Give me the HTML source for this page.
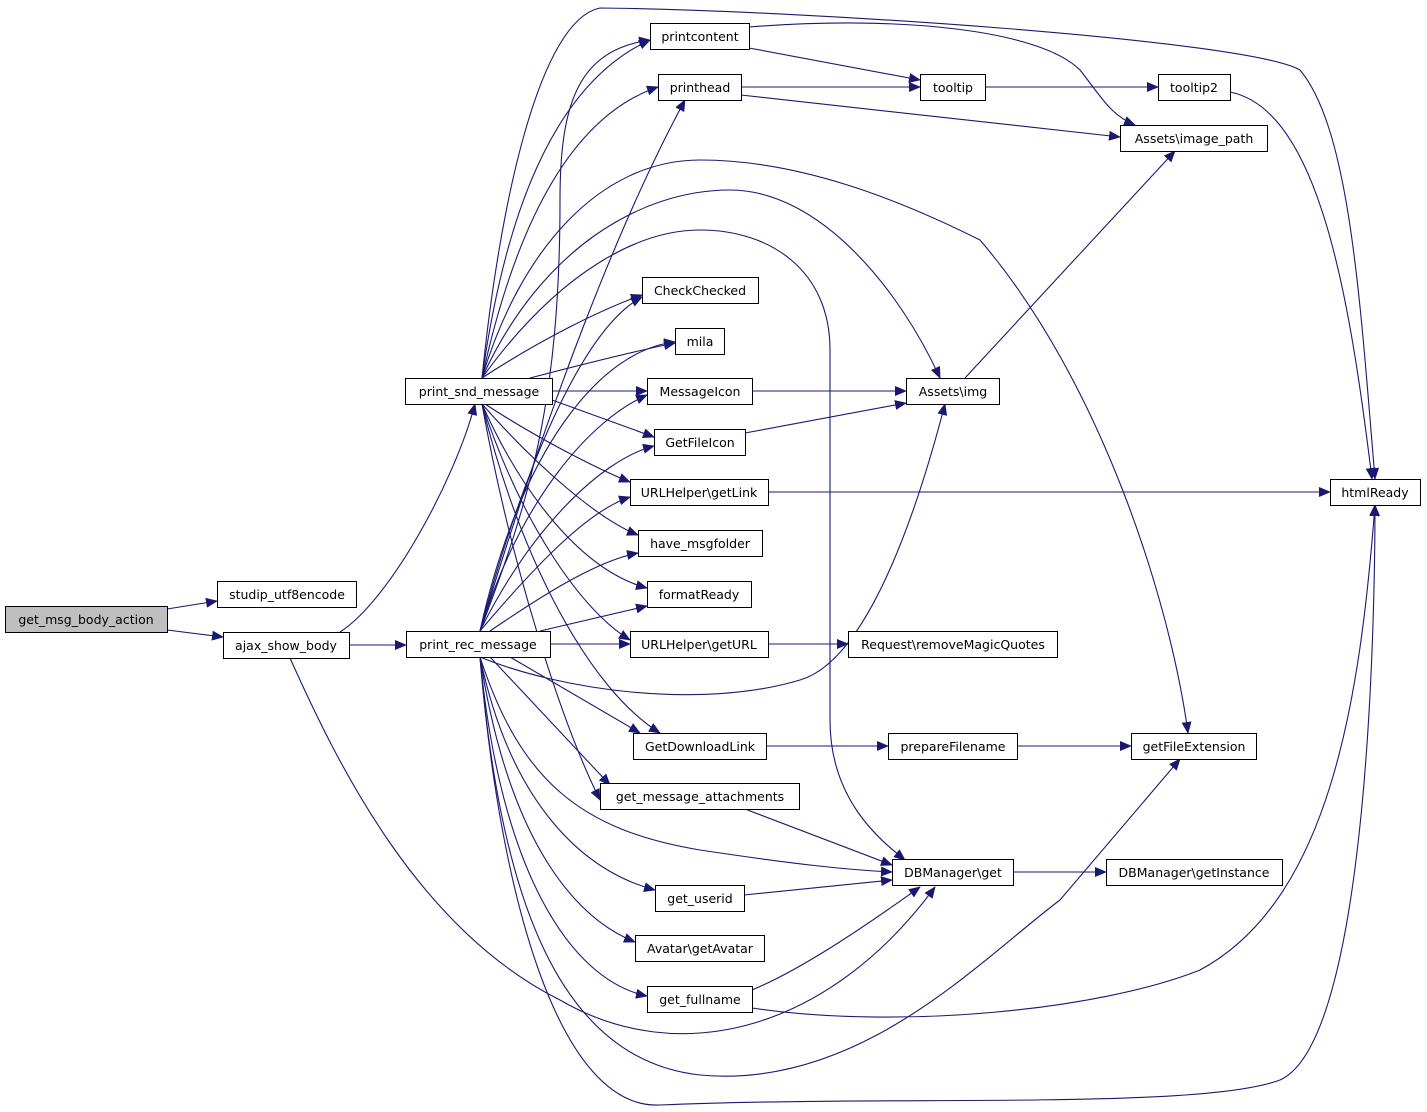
<!DOCTYPE html>
<html><head><meta charset="utf-8"><style>
html,body{margin:0;padding:0;background:#fff;width:1427px;height:1112px;overflow:hidden}
svg text{font-family:"DejaVu Sans","Liberation Sans",sans-serif;font-size:12.5px;fill:#000}
</style></head><body>
<svg width="1427" height="1112" viewBox="0 0 1427 1112" xmlns="http://www.w3.org/2000/svg">
<defs><marker id="a" markerWidth="12" markerHeight="10" refX="11" refY="5" orient="auto" markerUnits="userSpaceOnUse"><path d="M0,0 L12,5 L0,10 z" fill="#191970"/></marker></defs>
<g fill="none" stroke="#191970" stroke-width="1.1" marker-end="url(#a)">
<path d="M167,609 L217,601"/>
<path d="M167,630 L223,637"/>
<path d="M340,632 C390,600 455,480 475,404"/>
<path d="M349,645 L406,645"/>
<path d="M290,658 C340,770 420,930 560,1000 C680,1070 830,1030 935,887"/>
<path d="M482,378 C500,250 540,90 650,40"/>
<path d="M482,378 C510,250 560,120 658,87"/>
<path d="M482,378 C500,200 540,20 600,8 C800,10 1250,40 1300,70 C1350,130 1360,300 1375,479"/>
<path d="M482,378 C520,250 600,160 700,160 C800,160 900,200 980,240 C1100,380 1170,600 1188,733"/>
<path d="M482,378 C540,250 640,190 730,190 C820,190 900,290 940,378"/>
<path d="M482,378 C560,270 640,230 700,230 C770,230 830,270 830,350 L830,720 C830,800 880,840 905,860"/>
<path d="M482,378 C540,340 600,310 642,295"/>
<path d="M530,378 C580,365 640,350 675,343"/>
<path d="M552,391 L647,391"/>
<path d="M552,400 L654,437"/>
<path d="M485,404 C540,440 600,470 630,482"/>
<path d="M482,404 C540,470 600,520 638,535"/>
<path d="M482,404 C520,490 580,570 647,588"/>
<path d="M482,404 C520,520 580,610 630,640"/>
<path d="M482,404 C520,560 590,690 660,733"/>
<path d="M482,404 C510,560 560,720 600,800"/>
<path d="M480,631 C530,500 560,400 560,200 C560,100 580,50 650,40"/>
<path d="M480,631 C550,400 620,220 685,100"/>
<path d="M480,631 C520,480 580,330 642,297"/>
<path d="M480,631 C520,450 600,350 675,342"/>
<path d="M480,631 C520,500 590,420 647,395"/>
<path d="M480,631 C530,530 600,460 654,446"/>
<path d="M480,631 C540,560 590,510 630,497"/>
<path d="M490,631 C550,590 600,560 638,553"/>
<path d="M540,631 L647,606"/>
<path d="M550,644 L630,644"/>
<path d="M480,657 C560,690 700,710 800,680 C870,660 920,500 945,404"/>
<path d="M510,657 L640,733"/>
<path d="M490,657 L610,785"/>
<path d="M480,657 C520,780 580,830 700,850 C800,865 850,870 892,872"/>
<path d="M480,657 C510,800 580,870 655,890"/>
<path d="M480,657 C510,850 580,920 635,942"/>
<path d="M480,657 C500,870 570,980 647,996"/>
<path d="M480,657 C500,900 560,1060 700,1075 C860,1090 980,960 1060,900 L1180,759"/>
<path d="M480,657 C500,900 560,1110 660,1105 C900,1095 1200,1110 1280,1080 C1370,1040 1375,600 1375,505"/>
<path d="M749,48 L920,80"/>
<path d="M749,27 C900,15 1040,30 1080,70 C1100,95 1110,115 1135,125"/>
<path d="M741,87 L920,87"/>
<path d="M741,95 L1120,137"/>
<path d="M985,87 L1158,87"/>
<path d="M1230,92 C1320,110 1350,300 1372,479"/>
<path d="M965,378 L1175,151"/>
<path d="M752,391 L906,391"/>
<path d="M745,433 L906,403"/>
<path d="M768,492 L1330,492"/>
<path d="M768,644 L848,644"/>
<path d="M766,746 L888,746"/>
<path d="M1017,746 L1131,746"/>
<path d="M745,809 L892,865"/>
<path d="M1013,872 L1106,872"/>
<path d="M744,895 L892,880"/>
<path d="M752,990 C800,970 860,930 920,887"/>
<path d="M752,1008 C900,1030 1100,1010 1200,970 C1330,900 1360,700 1375,505"/>
</g>
<g stroke="#000" stroke-width="1" fill="#fff">
<rect x="5.5" y="606.5" width="162" height="26" fill="#bfbfbf"/>
<rect x="217.5" y="581.5" width="139" height="26"/>
<rect x="223.5" y="632.5" width="126" height="26"/>
<rect x="405.5" y="378.5" width="147" height="26"/>
<rect x="406.5" y="631.5" width="144" height="26"/>
<rect x="650.5" y="23.5" width="99" height="26"/>
<rect x="658.5" y="74.5" width="83" height="26"/>
<rect x="642.5" y="277.5" width="116" height="26"/>
<rect x="675.5" y="328.5" width="49" height="26"/>
<rect x="647.5" y="378.5" width="105" height="26"/>
<rect x="654.5" y="429.5" width="91" height="26"/>
<rect x="630.5" y="479.5" width="138" height="26"/>
<rect x="638.5" y="530.5" width="124" height="26"/>
<rect x="647.5" y="581.5" width="104" height="26"/>
<rect x="630.5" y="631.5" width="138" height="26"/>
<rect x="633.5" y="733.5" width="133" height="26"/>
<rect x="600.5" y="783.5" width="199" height="26"/>
<rect x="655.5" y="885.5" width="89" height="26"/>
<rect x="635.5" y="935.5" width="129" height="26"/>
<rect x="647.5" y="986.5" width="105" height="26"/>
<rect x="920.5" y="74.5" width="65" height="26"/>
<rect x="1158.5" y="74.5" width="72" height="26"/>
<rect x="1120.5" y="125.5" width="147" height="26"/>
<rect x="906.5" y="378.5" width="93" height="26"/>
<rect x="1330.5" y="479.5" width="90" height="26"/>
<rect x="848.5" y="631.5" width="209" height="26"/>
<rect x="888.5" y="733.5" width="129" height="26"/>
<rect x="1131.5" y="733.5" width="125" height="26"/>
<rect x="892.5" y="859.5" width="121" height="26"/>
<rect x="1106.5" y="859.5" width="176" height="26"/>
</g>
<g text-anchor="middle">
<text x="86" y="624">get_msg_body_action</text>
<text x="287" y="599">studip_utf8encode</text>
<text x="286" y="650">ajax_show_body</text>
<text x="479" y="396">print_snd_message</text>
<text x="478" y="649">print_rec_message</text>
<text x="700" y="41">printcontent</text>
<text x="700" y="92">printhead</text>
<text x="700" y="295">CheckChecked</text>
<text x="700" y="346">mila</text>
<text x="700" y="396">MessageIcon</text>
<text x="700" y="447">GetFileIcon</text>
<text x="699" y="497">URLHelper\getLink</text>
<text x="700" y="548">have_msgfolder</text>
<text x="699" y="599">formatReady</text>
<text x="699" y="649">URLHelper\getURL</text>
<text x="700" y="751">GetDownloadLink</text>
<text x="700" y="801">get_message_attachments</text>
<text x="700" y="903">get_userid</text>
<text x="700" y="953">Avatar\getAvatar</text>
<text x="700" y="1004">get_fullname</text>
<text x="953" y="92">tooltip</text>
<text x="1194" y="92">tooltip2</text>
<text x="1194" y="143">Assets\image_path</text>
<text x="953" y="396">Assets\img</text>
<text x="1375" y="497">htmlReady</text>
<text x="953" y="649">Request\removeMagicQuotes</text>
<text x="953" y="751">prepareFilename</text>
<text x="1194" y="751">getFileExtension</text>
<text x="953" y="877">DBManager\get</text>
<text x="1194" y="877">DBManager\getInstance</text>
</g>
</svg>
</body></html>
